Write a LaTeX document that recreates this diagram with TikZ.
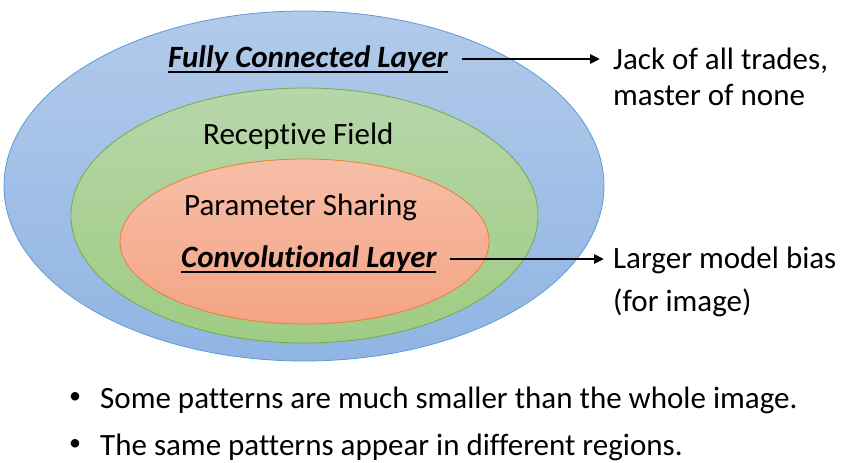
\documentclass[tikz,border=0pt]{standalone}
\usepackage{fontspec}
\setmainfont{Carlito}[Ligatures=NoCommon]
\usetikzlibrary{arrows.meta,shapes.geometric}
\definecolor{bluetop}{RGB}{178,202,234}
\definecolor{bluebot}{RGB}{144,181,227}
\definecolor{blueline}{RGB}{91,155,213}
\definecolor{greentop}{RGB}{183,214,170}
\definecolor{greenbot}{RGB}{159,204,131}
\definecolor{greenline}{RGB}{112,173,71}
\definecolor{orangetop}{RGB}{246,190,168}
\definecolor{orangebot}{RGB}{244,164,132}
\definecolor{orangeline}{RGB}{237,125,49}
\newcommand\myul[1]{\setbox0\hbox{#1}\rlap{\rule[-5.5pt]{\wd0}{1.3pt}}\box0}
\tikzset{
  region/.style={ellipse, inner sep=0pt, line width=0.8pt},
  txt/.style={anchor=base west, inner sep=0pt, font=\fontsize{31}{37}\selectfont},
  keytxt/.style={txt, font=\fontsize{31}{37}\selectfont\bfseries\itshape, text height=22pt, text depth=6pt},
  bul/.style={inner sep=0pt, font=\fontsize{24}{28}\selectfont},
  arr/.style={line width=2.6pt, -{Triangle[length=10pt,width=9pt]}},
}
\begin{document}
\begin{tikzpicture}[x=1pt,y=1pt]
\useasboundingbox (0,0) rectangle (841,-463);
\node[region, draw=blueline, top color=bluetop, bottom color=bluebot,
      minimum width=600pt, minimum height=350pt] (blue) at (304,-186) {};
\node[region, draw=greenline, top color=greentop, bottom color=greenbot,
      minimum width=467pt, minimum height=255pt] (green) at (304.5,-215.5) {};
\node[region, draw=orangeline, top color=orangetop, bottom color=orangebot,
      minimum width=369pt, minimum height=165pt] (orange) at (304.5,-241.5) {};

\node[keytxt] (fc) at (168,-67) {\myul{Fully Connected Layer}};
\node[txt] (rf) at (203,-144) {Receptive Field};
\node[txt] (ps) at (184,-215) {Parameter Sharing};
\node[keytxt] (cl) at (181,-267) {\myul{Convolutional Layer}};

\node[txt] (jack) at (613,-69) {Jack of all trades,};
\node[txt] (master) at (613,-105) {master of none};
\node[txt] (larger) at (613,-268) {Larger model bias};
\node[txt] (forimg) at (613,-311) {(for image)};

\draw[arr] ([xshift=14pt]fc.east) -- ([xshift=-13pt]fc.east -| jack.west);
\draw[arr] ([xshift=13pt]cl.east) -- ([xshift=-9pt]cl.east -| larger.west);

\node[bul] (b1) at (75,-398) {•};
\node[txt] (l1) at (100,-408) {Some patterns are much smaller than the whole image.};
\node[bul] (b2) at (75,-445) {•};
\node[txt] (l2) at (100,-455) {The same patterns appear in different regions.};
\end{tikzpicture}
\end{document}
